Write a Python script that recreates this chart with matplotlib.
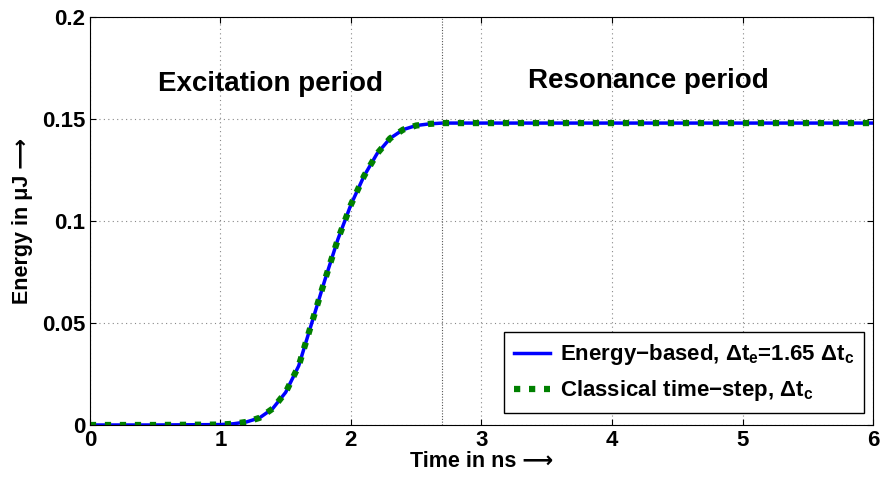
import numpy as np
import matplotlib.pyplot as plt

plt.rcParams['font.family'] = ['Liberation Sans', 'DejaVu Sans']
plt.rcParams['font.weight'] = 'bold'
plt.rcParams['mathtext.fontset'] = 'custom'
plt.rcParams['mathtext.rm'] = 'Liberation Sans:bold'
plt.rcParams['mathtext.bf'] = 'Liberation Sans:bold'
plt.rcParams['mathtext.it'] = 'Liberation Sans:bold'

# energy curve (time in ns, energy in uJ)
time_ns = [0, 0.5, 1.0, 1.1, 1.2, 1.3, 1.4, 1.5, 1.6, 1.7, 1.8, 1.9, 2.0,
           2.1, 2.2, 2.3, 2.4, 2.5, 2.6, 2.7, 2.8, 3.0, 4.0, 5.0, 6.0]
energy_based = [0, 0, 0.0002, 0.0006, 0.0015, 0.0035, 0.008, 0.016, 0.029,
                0.050, 0.071, 0.091, 0.108, 0.122, 0.133, 0.1405, 0.1448,
                0.1468, 0.1476, 0.148, 0.148, 0.148, 0.148, 0.148, 0.148]
classical = energy_based

boundary_t = 2.7
xticks = [0, 1, 2, 3, 4, 5, 6]
yticks = [0, 0.05, 0.1, 0.15, 0.2]
yticklabels = ['0', '0.05', '0.1', '0.15', '0.2']

fig = plt.figure(figsize=(8.81, 4.8), dpi=100)
ax = fig.add_axes([0.102, 0.1146, 0.889, 0.85])

ax.plot(time_ns, energy_based, color='#0000ff', lw=2.5,
        label=r'Energy$-$based, Δt$_\mathbf{e}$=1.65 Δt$_\mathbf{c}$')
ax.plot(time_ns, classical, color='#008000', lw=4.5, linestyle=(0, (1, 1.4)),
        label=r'Classical time$-$step, Δt$_\mathbf{c}$')

ax.plot([boundary_t, boundary_t], [0, 0.2], color='#555555', lw=0.8,
        linestyle=(0, (1, 1.5)))

ax.text(1.38, 0.167, 'Excitation period', ha='center', va='center',
        fontsize=20, fontweight='bold')
ax.text(4.28, 0.1686, 'Resonance period', ha='center', va='center',
        fontsize=20, fontweight='bold')

ax.set_xlim(0, 6)
ax.set_ylim(0, 0.2)
ax.set_xticks(xticks)
ax.set_yticks(yticks)
ax.set_yticklabels(yticklabels)
ax.tick_params(direction='in', labelsize=16, top=True, right=True, length=4)
ax.grid(True, linestyle=(0, (1, 3)), color='#888888', lw=0.8)

ax.set_xlabel('Time in ns ⟶', fontsize=15.5, fontweight='bold', labelpad=0)
ax.set_ylabel('Energy in μJ ⟶', fontsize=15.5, fontweight='bold', labelpad=6)

leg = ax.legend(loc='lower right', bbox_to_anchor=(0.997, 0.012), fontsize=16,
                fancybox=False, edgecolor='black', framealpha=1,
                handlelength=1.6, handletextpad=0.45, borderaxespad=0.3,
                labelspacing=0.5, borderpad=0.45)
leg.get_frame().set_linewidth(1.0)

fig.savefig('out.png', dpi=100)
